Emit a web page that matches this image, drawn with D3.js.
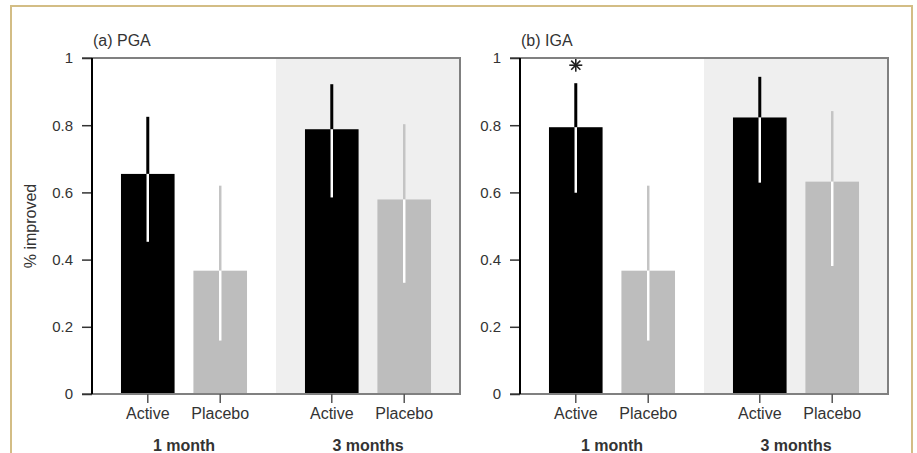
<!DOCTYPE html>
<html>
<head>
<meta charset="utf-8">
<script src="https://cdn.jsdelivr.net/npm/d3@7"></script>
<style>
  body { margin: 0; background: #fff; }
  text { font-family: "Liberation Sans", Arial, sans-serif; fill: #333; }
</style>
</head>
<body>
<div id="chart"></div>
<script>
// data
const groups = ['1 month', '3 months'];
const arms = ['Active', 'Placebo'];
const panelTitles = ['(a) PGA', '(b) IGA'];
const yTicks = [0, 0.2, 0.4, 0.6, 0.8, 1];

// order: 1m Active, 1m Placebo, 3m Active, 3m Placebo
const pgaValues = [0.655, 0.367, 0.788, 0.579];
const pgaLower  = [0.453, 0.159, 0.585, 0.331];
const pgaUpper  = [0.825, 0.620, 0.922, 0.803];
const pgaStar   = [false, false, false, false];

const igaValues = [0.794, 0.367, 0.823, 0.632];
const igaLower  = [0.599, 0.159, 0.629, 0.381];
const igaUpper  = [0.925, 0.620, 0.944, 0.842];
const igaStar   = [true, false, false, false];

const width = 917, height = 453;
const svg = d3.select('#chart').append('svg')
    .attr('width', width).attr('height', height);

// gold frame
svg.append('path')
    .attr('d', `M11,${height} L11,6 L912,6 L912,${height}`)
    .attr('fill', 'none').attr('stroke', '#d3bd85').attr('stroke-width', 2);

const armColor = {Active: '#000', Placebo: '#bdbdbd'};
const plotTop = 58, plotBottom = 394, plotW = 368;
const y = d3.scaleLinear().domain([0, 1]).range([plotBottom, plotTop]);

function rows(values, lower, upper, star) {
    const out = [];
    groups.forEach((g, gi) => arms.forEach((a, ai) => {
        const i = gi * 2 + ai;
        out.push({group: g, arm: a, value: values[i], lo: lower[i], hi: upper[i], star: star[i]});
    }));
    return out;
}

const panels = [
    {title: panelTitles[0], left: 92, data: rows(pgaValues, pgaLower, pgaUpper, pgaStar), ylabel: true},
    {title: panelTitles[1], left: 520, data: rows(igaValues, igaLower, igaUpper, igaStar), ylabel: false}
];

panels.forEach((p) => {
    const g = svg.append('g').attr('transform', `translate(${p.left},0)`);
    const gx = d3.scaleBand().domain(groups).range([0, plotW]);
    const ax = d3.scaleBand().domain(arms).range([0, gx.bandwidth()])
        .paddingInner(0.26).paddingOuter(0.4);
    const cx = (d) => gx(d.group) + ax(d.arm) + ax.bandwidth() / 2;

    // shaded second group
    g.append('rect')
        .attr('x', gx('3 months')).attr('y', plotTop)
        .attr('width', gx.bandwidth()).attr('height', plotBottom - plotTop)
        .attr('fill', '#efefef');

    // bars
    g.selectAll('rect.bar').data(p.data).enter().append('rect')
        .attr('class', 'bar')
        .attr('x', (d) => gx(d.group) + ax(d.arm))
        .attr('y', (d) => y(d.value))
        .attr('width', ax.bandwidth())
        .attr('height', (d) => y(0) - y(d.value))
        .attr('fill', (d) => armColor[d.arm]);

    // error bars: bar colour above, white inside the bar
    g.selectAll('line.err').data(p.data).enter().append('line')
        .attr('class', 'err')
        .attr('x1', cx).attr('x2', cx)
        .attr('y1', (d) => y(d.hi)).attr('y2', (d) => y(d.value))
        .attr('stroke', (d) => d.arm === 'Active' ? '#000' : '#c4c4c4')
        .attr('stroke-width', (d) => d.arm === 'Active' ? 3 : 2.5);
    g.selectAll('line.errIn').data(p.data).enter().append('line')
        .attr('class', 'errIn')
        .attr('x1', cx).attr('x2', cx)
        .attr('y1', (d) => y(d.value)).attr('y2', (d) => y(d.lo))
        .attr('stroke', '#fff')
        .attr('stroke-width', 2.5);

    // significance asterisk
    p.data.filter((d) => d.star).forEach((d) => {
        const sx = cx(d), sy = y(d.hi) - 18;
        const r = 6.5;
        g.selectAll(null).data(d3.range(4)).enter().append('line')
            .attr('x1', (k) => sx + r * Math.cos(k * Math.PI / 4))
            .attr('y1', (k) => sy + r * Math.sin(k * Math.PI / 4))
            .attr('x2', (k) => sx - r * Math.cos(k * Math.PI / 4))
            .attr('y2', (k) => sy - r * Math.sin(k * Math.PI / 4))
            .attr('stroke', '#222').attr('stroke-width', 1.6);
    });

    // frame: top, right, bottom gray; left black
    g.append('path')
        .attr('d', `M-10,${plotTop} L${plotW},${plotTop} L${plotW},${plotBottom} L-10,${plotBottom}`)
        .attr('fill', 'none').attr('stroke', '#808080').attr('stroke-width', 2);

    const yAxis = g.append('g')
        .call(d3.axisLeft(y).tickValues(yTicks).tickSize(10).tickPadding(9)
            .tickFormat((d) => String(d)));
    yAxis.select('.domain').remove();
    yAxis.selectAll('.tick line').attr('stroke', '#333').attr('stroke-width', 1.5);
    yAxis.selectAll('.tick text').attr('font-size', 15).attr('fill', '#333')
        .style('font-family', '"Liberation Sans", Arial, sans-serif');
    g.append('line')
        .attr('x1', 0).attr('x2', 0).attr('y1', plotTop).attr('y2', plotBottom)
        .attr('stroke', '#000').attr('stroke-width', 2);

    // x axis per group
    groups.forEach((grp) => {
        const xa = g.append('g')
            .attr('transform', `translate(${gx(grp)},${plotBottom})`)
            .call(d3.axisBottom(ax).tickSize(9).tickPadding(5));
        xa.select('.domain').remove();
        xa.selectAll('.tick line').attr('stroke', '#555').attr('stroke-width', 1.5);
        xa.selectAll('.tick text').attr('font-size', 16).attr('fill', '#333')
            .style('font-family', '"Liberation Sans", Arial, sans-serif');
        g.append('text')
            .attr('x', gx(grp) + gx.bandwidth() / 2)
            .attr('y', 451)
            .attr('text-anchor', 'middle')
            .attr('font-size', 16).attr('font-weight', 'bold')
            .text(grp);
    });

    g.append('text')
        .attr('x', 1).attr('y', 46)
        .attr('font-size', 16)
        .text(p.title);

    if (p.ylabel) {
        svg.append('text')
            .attr('transform', `translate(36,${(plotTop + plotBottom) / 2}) rotate(-90)`)
            .attr('text-anchor', 'middle')
            .attr('font-size', 16)
            .text('% improved');
    }
});
</script>
</body>
</html>
